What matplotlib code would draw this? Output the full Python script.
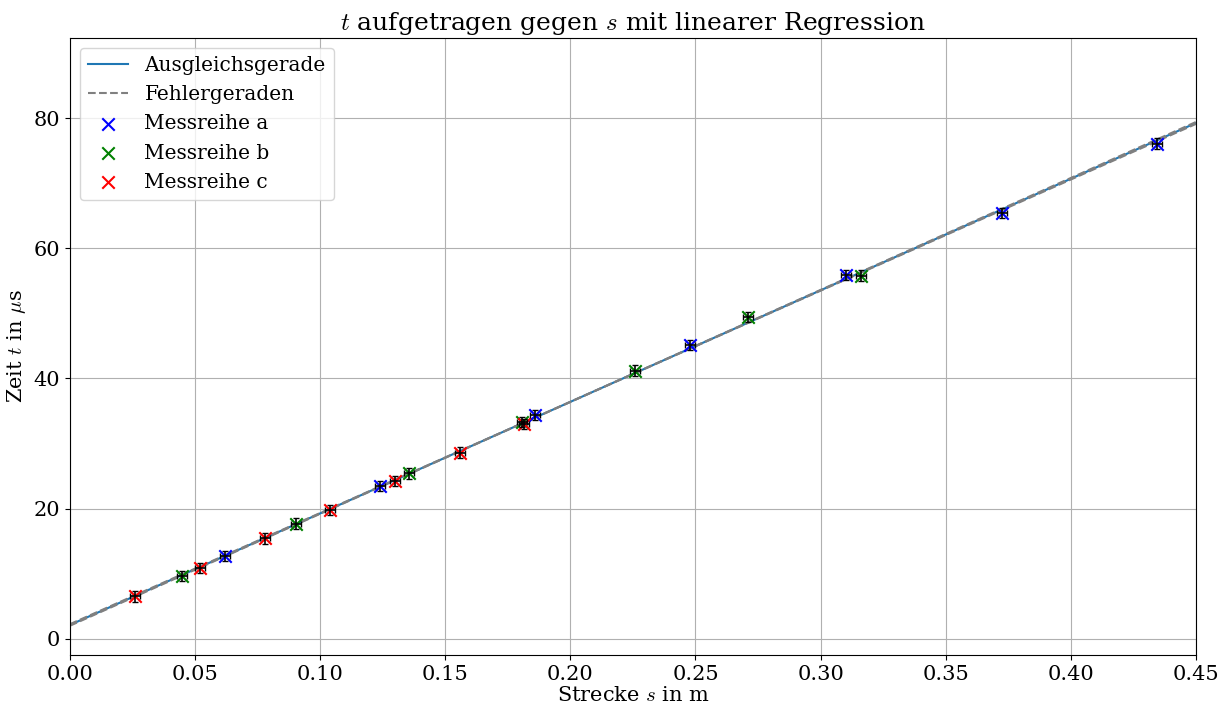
import matplotlib
matplotlib.use("Agg")
import matplotlib.pyplot as plt
import numpy as np

plt.rcParams['font.family'] = 'serif'
plt.rcParams['mathtext.fontset'] = 'cm'

# Messdaten (Strecke in m, Zeit in µs)
s_a = [0.062, 0.124, 0.186, 0.248, 0.310, 0.3725, 0.4345]
t_a = [12.7, 23.5, 34.4, 45.1, 55.9, 65.4, 76.1]
s_b = [0.045, 0.0905, 0.1355, 0.1805, 0.226, 0.271, 0.316]
t_b = [9.6, 17.7, 25.4, 33.3, 41.2, 49.4, 55.8]
s_c = [0.026, 0.052, 0.078, 0.104, 0.130, 0.156, 0.1815]
t_c = [6.5, 10.9, 15.4, 19.8, 24.2, 28.6, 33.0]
s_err = 0.002
t_err = 0.8

# Regressionsparameter
steigung, d_steigung = 171.5, 0.6
achse, d_achse = 2.1, 0.12

x = np.linspace(0, 0.45, 200)

fig, ax = plt.subplots(figsize=(12.26, 7.08), dpi=100)
fig.subplots_adjust(left=0.057, right=0.9755, top=0.946, bottom=0.075)

ax.plot(x, steigung * x + achse, color='C0', label='Ausgleichsgerade', zorder=2)
ax.plot(x, (steigung + d_steigung) * x + achse - d_achse, '--', color='gray',
        label='Fehlergeraden', zorder=2)
ax.plot(x, (steigung - d_steigung) * x + achse + d_achse, '--', color='gray', zorder=2)

for s, t, c, lab in [(s_a, t_a, 'blue', 'Messreihe a'),
                     (s_b, t_b, 'green', 'Messreihe b'),
                     (s_c, t_c, 'red', 'Messreihe c')]:
    ax.scatter(s, t, marker='x', color=c, s=80, label=lab, zorder=3)
    ax.errorbar(s, t, xerr=s_err, yerr=t_err, fmt='none', ecolor='black',
                elinewidth=1.2, capsize=2.5, zorder=4)

ax.set_xlim(0, 0.45)
ax.set_ylim(-2.5, 92.3)
ax.set_xticks(np.arange(0, 0.451, 0.05))
ax.set_yticks([0, 20, 40, 60, 80])
ax.tick_params(labelsize=15)
ax.grid(True)
ax.set_xlabel(r'Strecke $s$ in m', fontsize=15, labelpad=2)
ax.set_ylabel(r'Zeit $t$ in $\mu$s', fontsize=15)
ax.set_title(r'$t$ aufgetragen gegen $s$ mit linearer Regression', fontsize=18)
ax.legend(fontsize=14.5, loc='upper left')

fig.savefig('out.png', dpi=100)
